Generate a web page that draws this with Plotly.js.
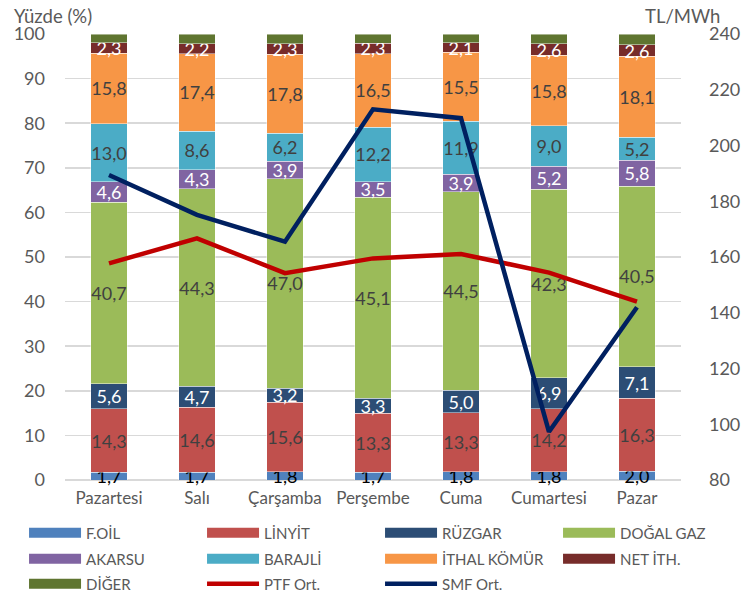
<!DOCTYPE html>
<html>
<head>
<meta charset="utf-8">
<script src="https://cdn.plot.ly/plotly-3.0.1.min.js"></script>
<style>html,body{margin:0;padding:0;background:#fff}#chart{width:751px;height:592px}</style>
</head>
<body>
<div id="chart"></div>
<script>
const days = ["Pazartesi","Salı","Çarşamba","Perşembe","Cuma","Cumartesi","Pazar"];
const foil = [1.7,1.7,1.8,1.7,1.8,1.8,2.0];
const linyit = [14.3,14.6,15.6,13.3,13.3,14.2,16.3];
const ruzgar = [5.6,4.7,3.2,3.3,5.0,6.9,7.1];
const dogalgaz = [40.7,44.3,47.0,45.1,44.5,42.3,40.5];
const akarsu = [4.6,4.3,3.9,3.5,3.9,5.2,5.8];
const barajli = [13.0,8.6,6.2,12.2,11.9,9.0,5.2];
const ithalKomur = [15.8,17.4,17.8,16.5,15.5,15.8,18.1];
const netIth = [2.3,2.2,2.3,2.3,2.1,2.6,2.6];
const diger = [2.0,2.2,2.2,2.1,2.0,2.2,2.4];
const ptf = [157.7,166.7,154.2,159.5,161.1,154.4,144.0];
const smf = [189.4,175.1,165.5,213.0,209.8,97.3,142.0];

const FONT = "Lato, 'Open Sans', sans-serif";
const GRAY = "#595959";

const barSeries = [
  {name:"F.OİL", y:foil, color:"#4F81BD", tc:"#000000", label:true, lg:"legend"},
  {name:"LİNYİT", y:linyit, color:"#C0504D", tc:"#404040", label:true, lg:"legend"},
  {name:"RÜZGAR", y:ruzgar, color:"#2C4D75", tc:"#FFFFFF", label:true, lg:"legend"},
  {name:"DOĞAL GAZ", y:dogalgaz, color:"#9BBB59", tc:"#404040", label:true, lg:"legend"},
  {name:"AKARSU", y:akarsu, color:"#8064A2", tc:"#FFFFFF", label:true, lg:"legend2"},
  {name:"BARAJLİ", y:barajli, color:"#4BACC6", tc:"#404040", label:true, lg:"legend2"},
  {name:"İTHAL KÖMÜR", y:ithalKomur, color:"#F79646", tc:"#404040", label:true, lg:"legend2"},
  {name:"NET İTH.", y:netIth, color:"#772C2A", tc:"#FFFFFF", label:true, lg:"legend2"},
  {name:"DİĞER", y:diger, color:"#5F7530", tc:"#FFFFFF", label:false, lg:"legend3"}
];
const lineSeries = [
  {name:"PTF Ort.", y:ptf, color:"#C00000", lg:"legend3"},
  {name:"SMF Ort.", y:smf, color:"#002060", lg:"legend3"}
];

const traces = [];
barSeries.forEach(s => {
  traces.push({
    type:"bar", x:days, y:s.y, name:s.name, showlegend:false,
    marker:{color:s.color, line:{color:"rgba(255,255,255,0.6)", width:0.75}},
    width:0.41,
    texttemplate: s.label ? "%{y:.1f}" : "",
    textposition: s.label ? "inside" : "none",
    insidetextanchor:"middle", textangle:0, constraintext:"none",
    textfont:{family:FONT, size:18, color:s.tc},
    cliponaxis:false, hoverinfo:"name+y"
  });
});
lineSeries.forEach(s => {
  traces.push({type:"scatter", mode:"lines", x:days, y:s.y, name:s.name, yaxis:"y2", showlegend:false,
    line:{color:s.color, width:4.5}});
});

// legend entries (swatches drawn by Plotly's legend)
barSeries.forEach(s => {
  traces.push({type:"scatter", mode:"lines", x:[null], y:[null], name:s.name, showlegend:true,
    legend:s.lg, line:{color:s.color, width:10}, hoverinfo:"skip"});
});
lineSeries.forEach(s => {
  traces.push({type:"scatter", mode:"lines", x:[null], y:[null], name:s.name, showlegend:true,
    legend:s.lg, line:{color:s.color, width:4.5}, hoverinfo:"skip"});
});

const legendBase = {orientation:"h", x:0.0192, xanchor:"left", yanchor:"middle",
  entrywidth:111, entrywidthmode:"pixels", itemwidth:52, traceorder:"normal",
  font:{family:FONT, size:15, color:GRAY}, bgcolor:"rgba(0,0,0,0)", borderwidth:0};

const layout = {
  width:751, height:592,
  margin:{l:10, r:10, t:34, b:112, autoexpand:false},
  paper_bgcolor:"#fff", plot_bgcolor:"#fff",
  barmode:"stack",
  separators:",.",
  font:{family:FONT, size:15, color:GRAY},
  uniformtext:{mode:"show", minsize:18},
  xaxis:{type:"category", domain:[0.0752, 0.9179], showgrid:false, showline:false, zeroline:false, ticks:"",
    ticklabelstandoff:6, tickfont:{family:FONT, size:17, color:GRAY}, range:[-0.5,6.5], fixedrange:true},
  yaxis:{range:[0,100], dtick:10, showgrid:true, gridcolor:"#D9D9D9", gridwidth:1.5,
    zeroline:true, zerolinecolor:"#D9D9D9", zerolinewidth:1.5, showline:false, ticks:"",
    ticklabelstandoff:19, tickfont:{family:FONT, size:18, color:GRAY}},
  yaxis2:{overlaying:"y", side:"right", anchor:"x", range:[80,240], dtick:20, showgrid:false, zeroline:false,
    showline:false, ticks:"", ticklabelstandoff:27, tickfont:{family:FONT, size:18, color:GRAY}},
  legend:Object.assign({}, legendBase, {y:-0.1188}),
  legend2:Object.assign({}, legendBase, {y:-0.1771}),
  legend3:Object.assign({}, legendBase, {y:-0.2330}),
  annotations:[
    {xref:"paper", yref:"paper", x:0.0027, y:1.0, yshift:18, xanchor:"left", yanchor:"middle",
      text:"Yüzde (%)", showarrow:false, font:{family:FONT, size:18.5, color:GRAY}},
    {xref:"paper", yref:"paper", x:0.974, y:1.0, yshift:18, xanchor:"right", yanchor:"middle",
      text:"TL/MWh", showarrow:false, font:{family:FONT, size:18.5, color:GRAY}}
  ],
  showlegend:true
};

Plotly.newPlot("chart", traces, layout, {displayModeBar:false, staticPlot:true});
</script>
</body>
</html>
